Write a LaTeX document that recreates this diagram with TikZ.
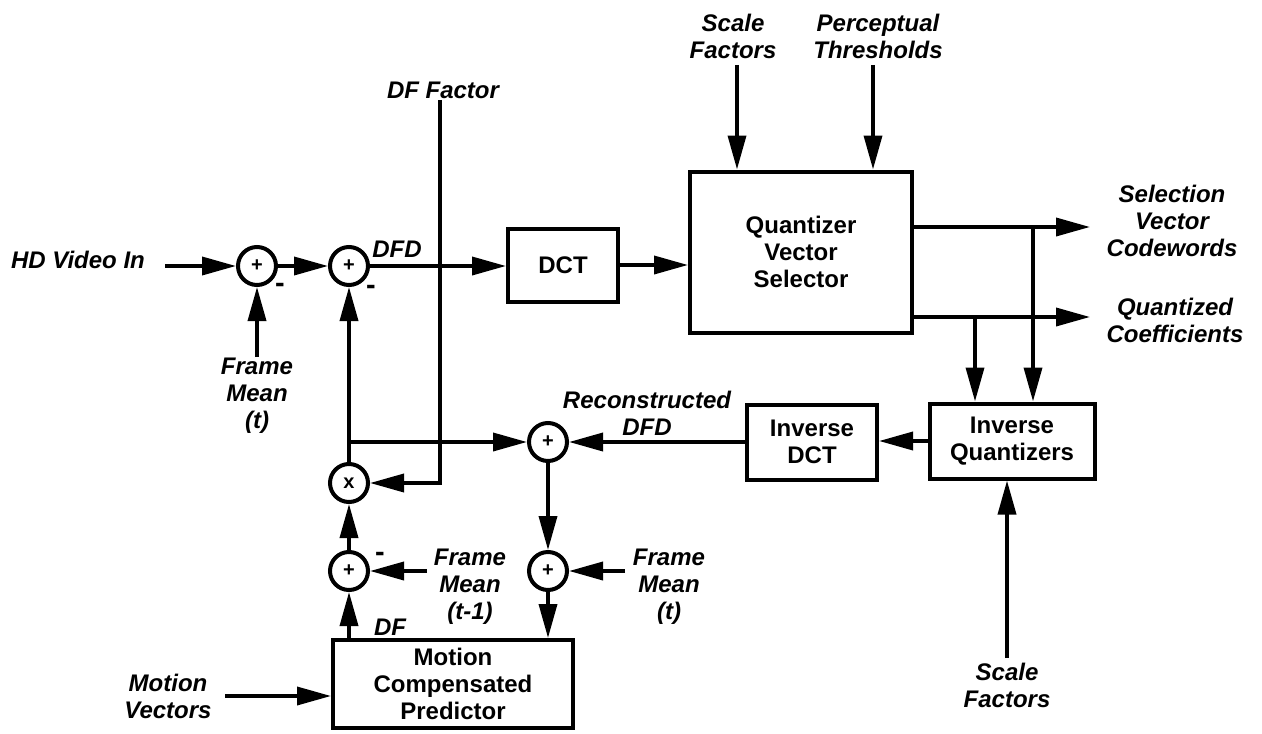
\documentclass[tikz,border=0pt]{standalone}
\usepackage{fontspec}
\setmainfont{Liberation Sans}
\usetikzlibrary{arrows.meta}

\begin{document}
\begin{tikzpicture}[x=0.5pt,y=-0.5pt,font=\fontsize{12}{13.5}\selectfont\bfseries,
  blk/.style={draw,line width=2pt,inner sep=0pt,align=center},
  sumnode/.style={draw,circle,line width=2pt,minimum size=19pt,inner sep=0pt,font=\normalsize\bfseries},
  lbl/.style={align=center,font=\fontsize{12}{13.5}\selectfont\bfseries\itshape},
  sig/.style={line width=1.8pt,-{Triangle[length=17pt,width=9pt]}}]
  \useasboundingbox (0,0) rectangle (1262,733);

  \node[sumnode] (s1) at (257,266) {+};
  \node[sumnode] (s2) at (349,266) {+};
  \node[sumnode] (mul) at (349,483) {x};
  \node[sumnode] (s3) at (548,442) {+};
  \node[sumnode] (s4) at (349,571) {+};
  \node[sumnode] (s5) at (548,571) {+};

  \node[blk,minimum width=55pt,minimum height=36.5pt] (dct) at (563,265) {DCT};
  \node[blk,minimum width=111pt,minimum height=80.5pt] (qvs) at (801,252) {Quantizer\\Vector\\Selector};
  \node[blk,minimum width=65pt,minimum height=37.5pt] (idct) at (812,442) {Inverse\\DCT};
  \node[blk,minimum width=82.5pt,minimum height=37.5pt] (iq) at (1012,441) {Inverse\\Quantizers};
  \node[blk,minimum width=120pt,minimum height=44pt] (mcp) at (453,684) {Motion\\Compensated\\Predictor};

  \node[lbl] (hdin) at (78,260) {HD Video In};
  \node[lbl] (dff) at (443,90) {DF Factor};
  \node[lbl] (dfd) at (397,249) {DFD};
  \node[lbl] (fm1) at (257,396) {Frame\\Mean\\(t)};
  \node[lbl] (sf1) at (733,36) {Scale\\Factors};
  \node[lbl] (pt) at (878,36) {Perceptual\\Thresholds};
  \node[lbl] (svc) at (1172,221) {Selection\\Vector\\Codewords};
  \node[lbl] (qc) at (1175,320) {Quantized\\Coefficients};
  \node[lbl] (rdfd) at (647,413) {Reconstructed\\DFD};
  \node[lbl] (fm0) at (470,587) {Frame\\Mean\\(t-1)};
  \node[lbl] (fm2) at (669,587) {Frame\\Mean\\(t)};
  \node[lbl] (df) at (390,627) {DF};
  \node[lbl] (mv) at (168,696) {Motion\\Vectors};
  \node[lbl] (sf2) at (1007,685) {Scale\\Factors};
  \foreach \x/\y in {280/288,371/290,380/557}
    \node[font=\Large\bfseries] (minus\x) at (\x,\y) {-};

  \coordinate (hdend) at (165,266);
  \coordinate (fm1end) at (257,357);
  \coordinate (dftop) at (440,100);
  \coordinate (sf1end) at (737,65);
  \coordinate (ptend) at (873,65);
  \coordinate (out1) at (1090,227);
  \coordinate (out2) at (1090,317);
  \coordinate (tap1) at (1033,227);
  \coordinate (tap2) at (975,317);
  \coordinate (fm0end) at (427,571);
  \coordinate (fm2end) at (625,571);
  \coordinate (mvend) at (225,696);
  \coordinate (sf2end) at (1007,658);

  \draw[sig] (hdend) -- (s1);
  \draw[sig] (fm1end) -- (s1);
  \draw[sig] (s1) -- (s2);
  \draw[sig] (s2.east) -- (dct.west |- s2.east);
  \draw[sig] (dct) -- (qvs.west |- dct.east);
  \draw[sig] (sf1end) -- (sf1end |- qvs.north);
  \draw[sig] (ptend) -- (ptend |- qvs.north);
  \draw[sig] (qvs.east |- out1) -- (out1);
  \draw[sig] (qvs.east |- out2) -- (out2);
  \draw[sig] (tap1) -- (tap1 |- iq.north);
  \draw[sig] (tap2) -- (tap2 |- iq.north);
  \draw[sig] (sf2end) -- (sf2end |- iq.south);
  \draw[sig] (iq.west) -- (idct.east |- iq.west);
  \draw[sig] (idct) -- (s3);
  \draw[sig] (s3) -- (s5);
  \draw[sig] (s5) -- (s5 |- mcp.north);
  \draw[sig] (fm2end) -- (s5);
  \draw[sig] (mcp.north -| s4) -- (s4);
  \draw[sig] (fm0end) -- (s4);
  \draw[sig] (s4) -- (mul);
  \draw[sig] (mul) -- (s2);
  \draw[sig] (mul |- s3) -- (s3);
  \draw[sig] (dftop) -- (dftop |- mul) -- (mul);
  \draw[sig] (mvend) -- (mcp.west |- mvend);
\end{tikzpicture}
\end{document}
